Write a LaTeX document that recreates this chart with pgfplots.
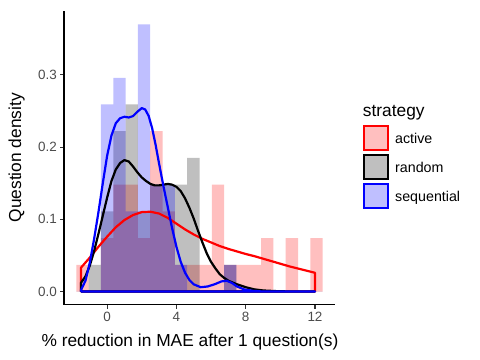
\documentclass[border=0pt]{standalone}
\usepackage{fontspec}
\setmainfont{Liberation Sans}
\usepackage{pgfplots}
\usepackage{pgfplotstable}
\pgfplotsset{compat=1.18}

% histogram: left bin edges, density per strategy (bin width 0.711, n = 38)
\pgfplotstableread{
edge     A      R      S
-1.7776  0.037  0      0
-1.0666  0      0.037  0
-0.3555  0.074  0.111  0.259
0.3555   0.148  0.222  0.296
1.0666   0.148  0.259  0.111
1.7776   0.074  0.111  0.370
2.4887   0.222  0.148  0.148
3.1997   0.111  0.148  0.148
3.9108   0.037  0.148  0.037
4.6218   0.037  0.185  0
5.3329   0.037  0      0
6.0439   0.148  0      0
6.7550   0.037  0.037  0.037
7.4660   0.037  0      0
8.1771   0.037  0      0
8.8881   0.074  0      0
9.5992   0      0      0
10.3102  0.074  0      0
11.0213  0      0      0
11.7323  0.074  0      0
12.4434  0      0      0
}\hist

\pgfplotstableread{
x y
-1.51 0
-1.51 0.033
-1.0 0.047
-0.5 0.062
0.0 0.076
0.5 0.089
1.0 0.099
1.5 0.106
2.0 0.110
2.5 0.1105
3.0 0.108
3.5 0.102
4.0 0.094
4.5 0.086
5.0 0.079
5.5 0.073
6.0 0.068
6.5 0.063
7.0 0.059
7.5 0.0555
8.0 0.052
8.5 0.049
9.0 0.0455
9.5 0.042
10.0 0.0385
10.5 0.035
11.0 0.032
11.5 0.029
12.0 0.026
12.0 0
-1.51 0
}\densA

\pgfplotstableread{
x y
-1.51 0
-1.51 0.012
-1.25 0.021
-1.0 0.036
-0.75 0.056
-0.5 0.080
-0.25 0.105
0.0 0.130
0.25 0.153
0.5 0.169
0.75 0.178
1.0 0.182
1.25 0.180
1.5 0.173
1.75 0.165
2.0 0.158
2.25 0.153
2.5 0.149
2.75 0.147
3.0 0.147
3.25 0.148
3.5 0.149
3.75 0.148
4.0 0.145
4.25 0.139
4.5 0.129
4.75 0.116
5.0 0.101
5.25 0.084
5.5 0.068
5.75 0.053
6.0 0.041
6.25 0.032
6.5 0.024
6.75 0.019
7.0 0.015
7.5 0.010
8.0 0.006
8.5 0.003
9.0 0.0015
10.0 0.0003
12.0 0
-1.51 0
}\densR

\pgfplotstableread{
x y
-1.51 0
-1.51 0.002
-1.25 0.015
-1.0 0.040
-0.75 0.073
-0.5 0.110
-0.25 0.150
0.0 0.188
0.25 0.216
0.5 0.233
0.75 0.240
1.0 0.242
1.25 0.241
1.5 0.243
1.75 0.249
2.0 0.254
2.2 0.252
2.4 0.243
2.6 0.226
2.8 0.203
3.0 0.177
3.25 0.146
3.5 0.117
3.75 0.088
4.0 0.062
4.25 0.041
4.5 0.026
4.75 0.016
5.0 0.010
5.4 0.006
5.8 0.007
6.2 0.010
6.6 0.014
6.9 0.015
7.2 0.012
7.5 0.007
7.9 0.003
8.4 0.001
9.0 0
12.0 0
-1.51 0
}\densS

\begin{document}
\begin{tikzpicture}
\useasboundingbox (0,0) rectangle (480bp,360bp);
\begin{axis}[
  at={(64bp,55.1bp)}, anchor=south west,
  scale only axis, width=270.9bp, height=294.3bp,
  xmin=-2.49, xmax=13.15, ymin=-0.0185, ymax=0.389,
  axis x line*=bottom, axis y line*=left,
  axis line style={line width=1.1bp, black},
  xtick={0,4,8,12}, xticklabels={0,4,8,12},
  ytick={0,0.1,0.2,0.3}, yticklabels={0.0,0.1,0.2,0.3},
  tick align=outside, major tick length=3.7bp,
  tick style={line width=1.1bp, color=black!80},
  ticklabel style={font=\fontsize{13.5}{14}\selectfont, text=black!70},
]
\addplot[ybar interval, fill=red, fill opacity=0.25, draw=none] table[x=edge, y=A] {\hist};
\addplot[ybar interval, fill=black, fill opacity=0.25, draw=none] table[x=edge, y=R] {\hist};
\addplot[ybar interval, fill=blue, fill opacity=0.25, draw=none] table[x=edge, y=S] {\hist};
\addplot[red, line width=2.2bp, line join=round] table[x=x, y=y] {\densA};
\addplot[black, line width=2.2bp, line join=round] table[x=x, y=y] {\densR};
\addplot[blue, line width=2.2bp, line join=round] table[x=x, y=y] {\densS};
\end{axis}
% axis titles
\node[anchor=base, font=\fontsize{17.4}{20}\selectfont] at (190bp,14bp) {\% reduction in MAE after 1 question(s)};
\node[anchor=base, rotate=90, font=\fontsize{17.4}{20}\selectfont] at (21bp,202.3bp) {Question density};
% legend
\node[anchor=base west, inner sep=0pt, font=\fontsize{17.4}{20}\selectfont] at (362.7bp,243.3bp) {strategy};
\draw[red, line width=1.8bp, fill=red!25] (364bp,209.7bp) rectangle (388bp,233.7bp);
\draw[black, line width=1.8bp, fill=black!25] (364bp,180.7bp) rectangle (388bp,204.7bp);
\draw[blue, line width=1.8bp, fill=blue!25] (364bp,152bp) rectangle (388bp,176bp);
\node[anchor=base west, inner sep=0pt, font=\fontsize{14.3}{16}\selectfont] at (395bp,216.5bp) {active};
\node[anchor=base west, inner sep=0pt, font=\fontsize{14.3}{16}\selectfont] at (395bp,187.5bp) {random};
\node[anchor=base west, inner sep=0pt, font=\fontsize{14.3}{16}\selectfont] at (395bp,158.8bp) {sequential};
\end{tikzpicture}
\end{document}
